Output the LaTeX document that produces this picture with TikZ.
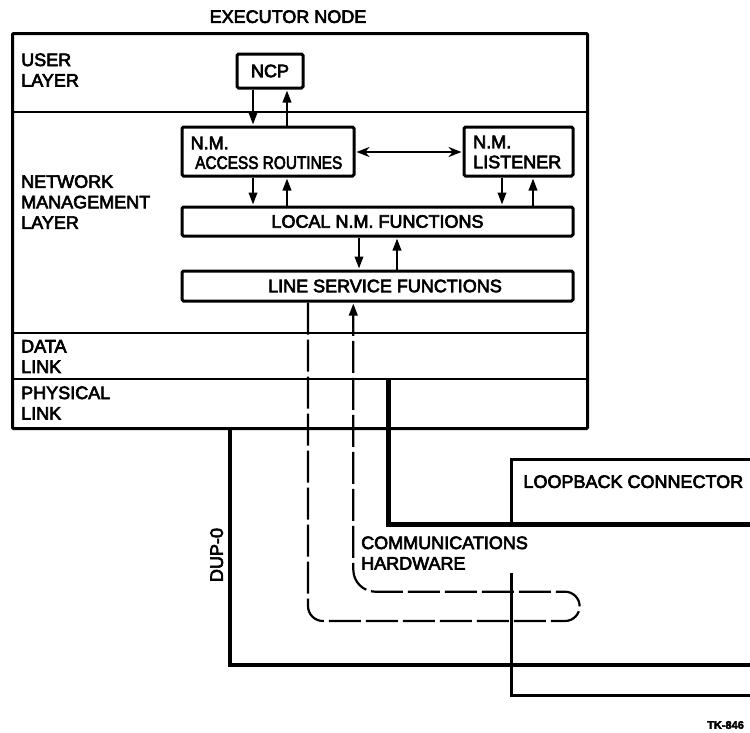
\documentclass[tikz,border=0pt]{standalone}
\usepackage{fontspec}
\setmainfont{Liberation Sans}[FakeBold=3.5]
\usetikzlibrary{arrows.meta}
\begin{document}
\begin{tikzpicture}[x=1pt,y=-1pt,
  txt/.style={font=\fontsize{18}{20.5}\selectfont, inner sep=0pt},
  mlabel/.style={txt, anchor=west, align=left},
  blk/.style={draw, line width=3pt, rounded corners=1.5pt, inner sep=0pt},
  sepline/.style={line width=2.4pt},
  arr/.style={line width=2pt, shorten >=1pt, -{Triangle[length=12pt,width=8.5pt]}},
  darr/.style={line width=2.2pt, shorten >=1pt, shorten <=1pt, {Stealth[length=13pt,width=10pt]}-{Stealth[length=13pt,width=10pt]}},
  dashline/.style={line width=2.2pt, dash pattern=on 32pt off 5pt},
  heavy/.style={line width=5pt},
  wire/.style={line width=3.5pt},
  conn/.style={line width=3pt}
]
\useasboundingbox (0,0) rectangle (750,732);

% executor node frame and layers
\node[draw, line width=3pt, rounded corners=1pt, inner sep=0pt, anchor=north west,
      minimum width=575pt, minimum height=395pt] (exec) at (11,32) {};
\coordinate (userline) at (11,112);
\coordinate (dataline) at (11,332.7);
\coordinate (physline) at (11,379);
\draw[sepline] (userline) -- (exec.east |- userline);
\draw[sepline] (dataline) -- (exec.east |- dataline);
\draw[sepline] (physline) -- (exec.east |- physline);

\node[txt] (title) at (288,16.7) {EXECUTOR NODE};
\node[mlabel] (luser) at (21,70) {USER\\LAYER};
\node[mlabel] (lnm) at (21,202) {NETWORK\\MANAGEMENT\\LAYER};
\node[mlabel] (ldata) at (21,356.5) {DATA\\LINK};
\node[mlabel] (lphys) at (21,403) {PHYSICAL\\LINK};

% boxes
\node[blk, txt, minimum width=66pt, minimum height=34pt] (ncp) at (270,71) {NCP};
\node[blk, minimum width=172pt, minimum height=49pt] (acc) at (268,151.5) {};
\node[txt, anchor=west] (accnm) at (190.5,143) {N.M.};
\node[txt, anchor=west] (accrt) at (195,162.7) {\scalebox{0.855}[1]{ACCESS ROUTINES}};
\node[blk, minimum width=109pt, minimum height=49pt] (lis) at (518.5,151.5) {};
\node[txt, anchor=west] (lisnm) at (473,142) {N.M.};
\node[txt, anchor=west] (lislb) at (473,162) {LISTENER};
\node[blk, txt, minimum width=391pt, minimum height=29pt] (loc) at (377.5,221.5) {LOCAL N.M. FUNCTIONS};
\node[blk, minimum width=391pt, minimum height=30pt] (lsf) at (377.5,286) {};
\node[txt] (lsftxt) at (385,286) {LINE SERVICE FUNCTIONS};

% arrows
\draw[arr] (253,0 |- ncp.south) -- (253,0 |- acc.north);
\draw[arr] (287,0 |- acc.north) -- (287,0 |- ncp.south);
\draw[arr] (253,0 |- acc.south) -- (253,0 |- loc.north);
\draw[arr] (287,0 |- loc.north) -- (287,0 |- acc.south);
\draw[arr] (502,0 |- lis.south) -- (502,0 |- loc.north);
\draw[arr] (533,0 |- loc.north) -- (533,0 |- lis.south);
\draw[arr] (359,0 |- loc.south) -- (359,0 |- lsf.north);
\draw[arr] (397,0 |- lsf.north) -- (397,0 |- loc.south);
\draw[darr] (acc.east |- 0,152) -- (lis.west |- 0,152);

% dashed test loop through communications hardware
\draw[dashline, -{Triangle[length=12pt,width=8.5pt]}, shorten >=1pt]
  (308,0 |- lsf.south) -- (308,606)
  .. controls (308,614.3) and (314.7,621) .. (323,621)
  -- (565,621) arc[start angle=90, end angle=-90, radius=14.65]
  -- (375.3,591.7)
  .. controls (363.15,591.7) and (353.3,581.85) .. (353.3,569.7)
  -- (353.3,0 |- lsf.south);

% physical wiring
\coordinate (thickend) at (750,524);
\draw[heavy] (388,0 |- physline) -- (388,0 |- thickend) -- (thickend);
\coordinate (dupend) at (750,665);
\draw[wire] (230,0 |- exec.south) -- (230,0 |- dupend) -- (dupend);

% loopback connector
\coordinate (lbtop) at (750,459);
\coordinate (lbbot) at (750,695);
\draw[conn] (lbtop) -- (511,0 |- lbtop) -- (511,527);
\draw[conn] (511,573) -- (511,0 |- lbbot) -- (lbbot);

\node[txt, anchor=west] (lbtxt) at (523.3,481.7) {LOOPBACK CONNECTOR};
\node[mlabel] (comm) at (361,553) {COMMUNICATIONS\\HARDWARE};
\node[txt, rotate=90] (dup) at (216.7,555) {DUP-0};
\node[font=\fontsize{11}{13}\selectfont\bfseries, inner sep=0pt, anchor=west] (tk) at (707,725) {TK-846};
\end{tikzpicture}
\end{document}
